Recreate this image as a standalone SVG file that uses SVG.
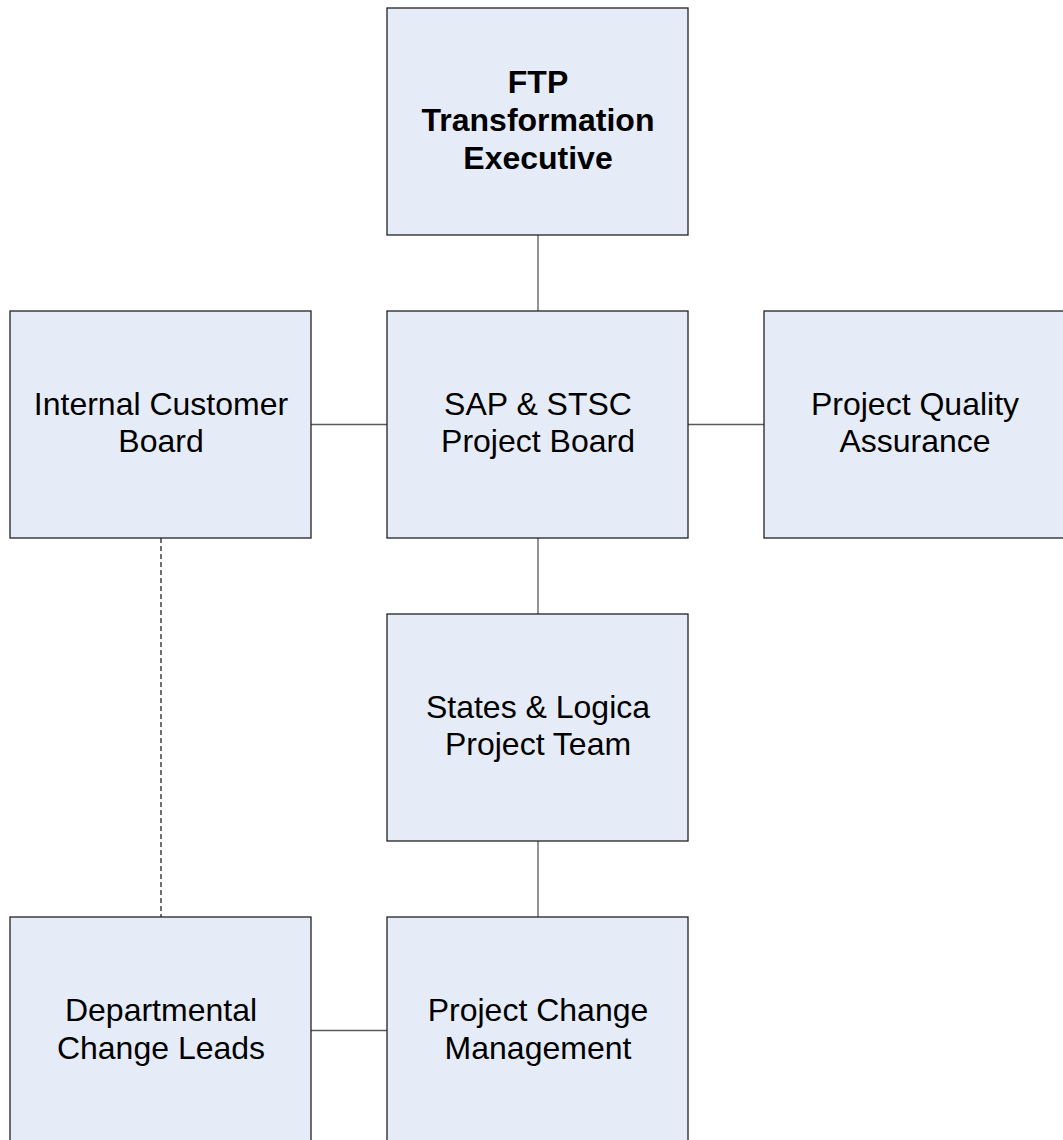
<svg xmlns="http://www.w3.org/2000/svg" width="1063" height="1140" viewBox="0 0 1063 1140">
<style>
.box{fill:#E6ECF7;stroke:#222;stroke-width:1.3}
.t{font-family:"Liberation Sans",Arial,sans-serif;font-size:32px;fill:#000;text-anchor:middle}
.b{font-weight:bold}
.c{stroke:#595959;stroke-width:1.3;fill:none}
.d{stroke:#222;stroke-width:1.3;fill:none;stroke-dasharray:5,3}
</style>
<rect width="1063" height="1140" fill="#fff"/>
<g id="connectors">
<line class="c" x1="538" y1="235" x2="538" y2="311"/>
<line class="c" x1="311" y1="424.5" x2="387" y2="424.5"/>
<line class="c" x1="688" y1="424.5" x2="764" y2="424.5"/>
<line class="c" x1="538" y1="538" x2="538" y2="614"/>
<line class="c" x1="538" y1="841" x2="538" y2="917"/>
<line class="c" x1="311" y1="1030.5" x2="387" y2="1030.5"/>
<line class="d" x1="161" y1="538" x2="161" y2="917"/>
</g>
<g id="ftp">
<rect class="box" x="387" y="8" width="301" height="227"/>
<text class="t b" x="538" y="92.5">FTP</text>
<text class="t b" x="538" y="130.5">Transformation</text>
<text class="t b" x="538" y="168.5">Executive</text>
</g>
<g id="icb">
<rect class="box" x="10" y="311" width="301" height="227"/>
<text class="t" x="161" y="415">Internal Customer</text>
<text class="t" x="161" y="452">Board</text>
</g>
<g id="sap">
<rect class="box" x="387" y="311" width="301" height="227"/>
<text class="t" x="538" y="415">SAP &amp; STSC</text>
<text class="t" x="538" y="452">Project Board</text>
</g>
<g id="pqa">
<rect class="box" x="764" y="311" width="310" height="227"/>
<text class="t" x="915" y="415">Project Quality</text>
<text class="t" x="915" y="452">Assurance</text>
</g>
<g id="team">
<rect class="box" x="387" y="614" width="301" height="227"/>
<text class="t" x="538" y="718">States &amp; Logica</text>
<text class="t" x="538" y="755">Project Team</text>
</g>
<g id="dcl">
<rect class="box" x="10" y="917" width="301" height="240"/>
<text class="t" x="161" y="1021">Departmental</text>
<text class="t" x="161" y="1058.5">Change Leads</text>
</g>
<g id="pcm">
<rect class="box" x="387" y="917" width="301" height="240"/>
<text class="t" x="538" y="1021">Project Change</text>
<text class="t" x="538" y="1058.5">Management</text>
</g>
</svg>
